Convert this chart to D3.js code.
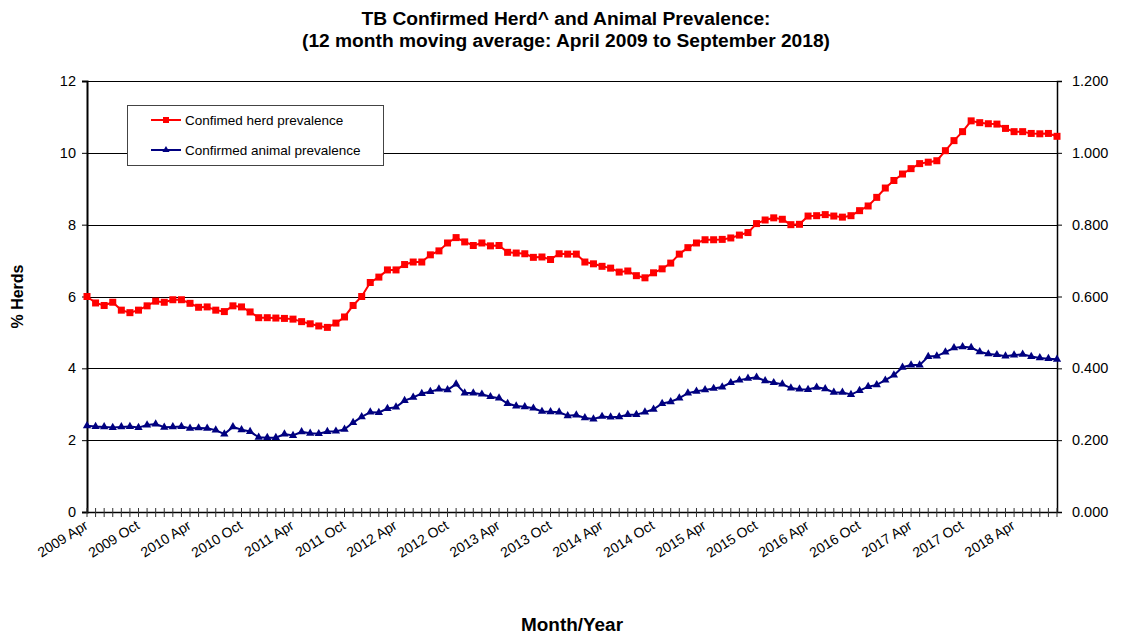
<!DOCTYPE html>
<html>
<head>
<meta charset="utf-8">
<script src="https://cdnjs.cloudflare.com/ajax/libs/d3/7.8.5/d3.min.js"></script>
<style>
  body { margin: 0; background: #fff; }
  svg { font-family: "Liberation Sans", Arial, sans-serif; }
</style>
</head>
<body>
<div id="chart"></div>
<script>
// months from 2009 Apr to 2018 Sep
var startYear = 2009, startMonth = 3;
var monthNames = ["Jan","Feb","Mar","Apr","May","Jun","Jul","Aug","Sep","Oct","Nov","Dec"];

// confirmed herd prevalence (% herds)
var herdPrevalence = [
  6.00, 5.82, 5.75, 5.84, 5.62, 5.55, 5.62, 5.74, 5.87, 5.84, 5.91, 5.91,
  5.81, 5.70, 5.71, 5.62, 5.58, 5.74, 5.71, 5.57, 5.41, 5.41, 5.40, 5.39,
  5.37, 5.30, 5.24, 5.18, 5.14, 5.26, 5.43, 5.75, 6.00, 6.39, 6.54, 6.74,
  6.74, 6.89, 6.96, 6.96, 7.16, 7.27, 7.49, 7.64, 7.52, 7.42, 7.49, 7.41,
  7.42, 7.23, 7.21, 7.19, 7.09, 7.10, 7.03, 7.19, 7.18, 7.18, 6.96, 6.91,
  6.84, 6.79, 6.68, 6.71, 6.58, 6.52, 6.66, 6.77, 6.93, 7.18, 7.36, 7.49,
  7.58, 7.58, 7.59, 7.63, 7.71, 7.78, 8.03, 8.13, 8.19, 8.15, 8.00, 8.01,
  8.24, 8.25, 8.28, 8.24, 8.21, 8.25, 8.39, 8.52, 8.76, 9.02, 9.23, 9.41,
  9.56, 9.70, 9.74, 9.78, 10.06, 10.34, 10.59, 10.89, 10.84, 10.81, 10.80, 10.68,
  10.59, 10.59, 10.54, 10.53, 10.54, 10.46
];

// confirmed animal prevalence (right axis)
var animalPrevalence = [
  0.240, 0.238, 0.237, 0.235, 0.237, 0.238, 0.235, 0.242, 0.245, 0.236, 0.237, 0.238,
  0.233, 0.234, 0.233, 0.228, 0.217, 0.237, 0.229, 0.224, 0.208, 0.207, 0.207, 0.217,
  0.213, 0.223, 0.219, 0.218, 0.224, 0.225, 0.230, 0.249, 0.265, 0.278, 0.277, 0.288,
  0.292, 0.310, 0.319, 0.330, 0.335, 0.342, 0.340, 0.356, 0.331, 0.331, 0.328, 0.321,
  0.317, 0.302, 0.295, 0.293, 0.289, 0.280, 0.279, 0.278, 0.268, 0.270, 0.262, 0.259,
  0.266, 0.264, 0.265, 0.271, 0.271, 0.278, 0.286, 0.302, 0.307, 0.317, 0.331, 0.336,
  0.340, 0.344, 0.348, 0.360, 0.367, 0.372, 0.375, 0.365, 0.360, 0.356, 0.345, 0.342,
  0.341, 0.347, 0.343, 0.333, 0.333, 0.327, 0.338, 0.349, 0.354, 0.367, 0.381, 0.403,
  0.409, 0.409, 0.433, 0.434, 0.445, 0.457, 0.460, 0.458, 0.446, 0.440, 0.438, 0.434,
  0.437, 0.439, 0.433, 0.429, 0.427, 0.425
];

var leftTicks = [0, 2, 4, 6, 8, 10, 12];
var rightTicks = [0, 0.2, 0.4, 0.6, 0.8, 1.0, 1.2];
var seriesNames = ["Confimed herd prevalence", "Confirmed animal prevalence"];

var months = herdPrevalence.map(function (d, i) {
  var m = startMonth + i;
  return { year: startYear + Math.floor(m / 12), month: m % 12, herd: d, animal: animalPrevalence[i], i: i };
});

var width = 1132, height = 636;
var margin = { top: 81, right: 75, bottom: 124, left: 87 };
var plotW = width - margin.left - margin.right;
var plotH = height - margin.top - margin.bottom;

var svg = d3.select("#chart").append("svg")
  .attr("width", width)
  .attr("height", height);

var x = d3.scaleLinear().domain([0, months.length - 1]).range([margin.left, margin.left + plotW]);
var yLeft = d3.scaleLinear().domain([0, 12]).range([margin.top + plotH, margin.top]);
var yRight = d3.scaleLinear().domain([0, 1.2]).range([margin.top + plotH, margin.top]);

// title
svg.append("text")
  .attr("x", 566).attr("y", 25)
  .attr("text-anchor", "middle")
  .attr("textLength", 409).attr("lengthAdjust", "spacingAndGlyphs")
  .style("font-size", "17.5px").style("font-weight", "bold")
  .text("TB Confirmed Herd^ and Animal Prevalence:");
svg.append("text")
  .attr("x", 566).attr("y", 47)
  .attr("text-anchor", "middle")
  .attr("textLength", 528).attr("lengthAdjust", "spacingAndGlyphs")
  .style("font-size", "17.5px").style("font-weight", "bold")
  .text("(12 month moving average: April 2009 to September 2018)");

// gridlines
svg.append("g").selectAll("line").data(leftTicks).enter().append("line")
  .attr("x1", margin.left).attr("x2", margin.left + plotW)
  .attr("y1", function (d) { return Math.round(yLeft(d)) + 0.5; })
  .attr("y2", function (d) { return Math.round(yLeft(d)) + 0.5; })
  .attr("stroke", "#000").attr("stroke-width", 1);

// left axis
var leftAxis = d3.axisLeft(yLeft).tickValues(leftTicks).tickSize(5).tickPadding(6)
  .tickFormat(d3.format("d"));
var gl = svg.append("g").attr("transform", "translate(" + margin.left + ",0)").call(leftAxis);
gl.select(".domain").attr("stroke", "#000").attr("stroke-width", 2);
gl.selectAll("text").style("font-size", "14.5px").style("font-family", "Liberation Sans, Arial, sans-serif").attr("fill", "#000");

// right axis
var rightAxis = d3.axisRight(yRight).tickValues(rightTicks).tickSize(5).tickPadding(10)
  .tickFormat(d3.format(".3f"));
var gr = svg.append("g").attr("transform", "translate(" + (margin.left + plotW) + ",0)").call(rightAxis);
gr.select(".domain").attr("stroke", "#000").attr("stroke-width", 1.5);
gr.selectAll("text").style("font-size", "14.5px").style("font-family", "Liberation Sans, Arial, sans-serif").attr("fill", "#000");

// bottom axis: a cross tick per month
var gb = svg.append("g");
gb.append("line")
  .attr("x1", margin.left).attr("x2", margin.left + plotW)
  .attr("y1", yLeft(0) + 0.5).attr("y2", yLeft(0) + 0.5)
  .attr("stroke", "#000").attr("stroke-width", 1.5);
gb.selectAll(".mtick").data(months).enter().append("line")
  .attr("class", "mtick")
  .attr("x1", function (d) { return x(d.i); }).attr("x2", function (d) { return x(d.i); })
  .attr("y1", yLeft(0) - 4).attr("y2", yLeft(0) + 5)
  .attr("stroke", "#333").attr("stroke-width", 1);

gb.selectAll(".mlabel").data(months.filter(function (d) { return d.i % 6 === 0; }))
  .enter().append("text")
  .attr("class", "mlabel")
  .attr("text-anchor", "end")
  .attr("transform", function (d) { return "translate(" + (x(d.i) + 2) + "," + (yLeft(0) + 16) + ") rotate(-32)"; })
  .style("font-size", "14px")
  .text(function (d) { return d.year + " " + monthNames[d.month]; });

// axis titles
svg.append("text")
  .attr("transform", "translate(23," + yLeft(6) + ") rotate(-90)")
  .attr("text-anchor", "middle")
  .style("font-size", "16px").style("font-weight", "bold")
  .text("% Herds");
// right axis title sits mostly beyond the page edge, as in the source
svg.append("text")
  .attr("transform", "translate(1138," + yLeft(6) + ") rotate(90)")
  .attr("text-anchor", "middle")
  .style("font-size", "16px").style("font-weight", "bold")
  .text("% Animals");
svg.append("text")
  .attr("x", 572).attr("y", 631)
  .attr("text-anchor", "middle")
  .attr("textLength", 102).attr("lengthAdjust", "spacingAndGlyphs")
  .style("font-size", "17.5px").style("font-weight", "bold")
  .text("Month/Year");

// series
var herdLine = d3.line().x(function (d) { return x(d.i); }).y(function (d) { return yLeft(d.herd); });
var animalLine = d3.line().x(function (d) { return x(d.i); }).y(function (d) { return yRight(d.animal); });

svg.append("path").datum(months).attr("d", herdLine)
  .attr("fill", "none").attr("stroke", "#ff0000").attr("stroke-width", 2);
svg.append("g").selectAll("rect").data(months).enter().append("rect")
  .attr("x", function (d) { return x(d.i) - 3.5; })
  .attr("y", function (d) { return yLeft(d.herd) - 3.5; })
  .attr("width", 7).attr("height", 7)
  .attr("fill", "#ff0000");

var tri = d3.symbol().type(d3.symbolTriangle).size(30);
svg.append("path").datum(months).attr("d", animalLine)
  .attr("fill", "none").attr("stroke", "#000080").attr("stroke-width", 2);
svg.append("g").selectAll("path").data(months).enter().append("path")
  .attr("d", tri)
  .attr("transform", function (d) { return "translate(" + x(d.i) + "," + yRight(d.animal) + ")"; })
  .attr("fill", "#000080");

// legend
var legend = svg.append("g").attr("transform", "translate(127,105)");
legend.append("rect")
  .attr("x", 0.5).attr("y", 0.5).attr("width", 256).attr("height", 60)
  .attr("fill", "#fff").attr("stroke", "#444").attr("stroke-width", 1);
var legColors = ["#ff0000", "#000080"];
seriesNames.forEach(function (name, k) {
  var ly = 15 + k * 30;
  legend.append("line")
    .attr("x1", 24).attr("x2", 54).attr("y1", ly).attr("y2", ly)
    .attr("stroke", legColors[k]).attr("stroke-width", 2);
  if (k === 0) {
    legend.append("rect").attr("x", 36).attr("y", ly - 3).attr("width", 6).attr("height", 6).attr("fill", legColors[k]);
  } else {
    legend.append("path").attr("d", d3.symbol().type(d3.symbolTriangle).size(22))
      .attr("transform", "translate(39," + ly + ")").attr("fill", legColors[k]);
  }
  legend.append("text")
    .attr("x", 58).attr("y", ly + 4.5)
    .style("font-size", "13.5px")
    .text(name);
});
</script>
</body>
</html>
